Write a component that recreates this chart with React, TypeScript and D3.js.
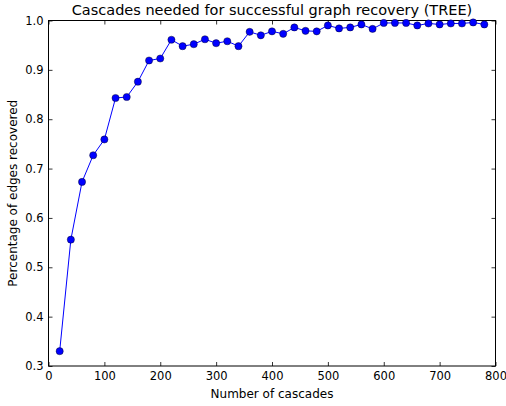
import React, { useEffect, useRef } from 'react';
import * as d3 from 'd3';

// Number of cascades used (x) and share of edges recovered (y)
const cascades = [20, 40, 60, 80, 100, 120, 140, 160, 180, 200, 220, 240, 260, 280, 300, 320, 340, 360, 380, 400,
  420, 440, 460, 480, 500, 520, 540, 560, 580, 600, 620, 640, 660, 680, 700, 720, 740, 760, 780];
const recovered = [0.330, 0.556, 0.673, 0.727, 0.759, 0.843, 0.845, 0.876, 0.919, 0.923, 0.961, 0.948, 0.952, 0.962,
  0.954, 0.958, 0.948, 0.977, 0.970, 0.978, 0.973, 0.986, 0.979, 0.978, 0.990, 0.984, 0.986, 0.992, 0.983, 0.995,
  0.995, 0.995, 0.990, 0.994, 0.992, 0.994, 0.994, 0.996, 0.992];

const xTicks = [0, 100, 200, 300, 400, 500, 600, 700, 800];
const yTicks = [0.3, 0.4, 0.5, 0.6, 0.7, 0.8, 0.9, 1.0];

const W = 506;
const H = 406;
const margin = { top: 20.5, right: 10.5, bottom: 40, left: 48.5 };

const App = () => {
  const svgRef = useRef<SVGSVGElement>(null);

  useEffect(() => {
    const svg = d3.select(svgRef.current);
    svg.selectAll('*').remove();

    const x = d3.scaleLinear().domain([0, 800]).range([margin.left, W - margin.right]);
    const y = d3.scaleLinear().domain([0.3, 1.0]).range([H - margin.bottom, margin.top]);
    const font = 'DejaVu Sans, sans-serif';

    svg.append('rect').attr('width', W).attr('height', H).attr('fill', 'white');

    // --- axes, ticks pointing inward on all four sides ---
    const tickLen = 4;
    const bottom = svg.append('g').attr('transform', `translate(0,${y(0.3)})`)
      .call(d3.axisBottom(x).tickValues(xTicks).tickSize(-tickLen).tickPadding(6).tickFormat(d3.format('d')));
    const top = svg.append('g').attr('transform', `translate(0,${y(1.0)})`)
      .call(d3.axisTop(x).tickValues(xTicks).tickSize(-tickLen).tickFormat(() => ''));
    const left = svg.append('g').attr('transform', `translate(${x(0)},0)`)
      .call(d3.axisLeft(y).tickValues(yTicks).tickSize(-tickLen).tickPadding(5).tickFormat(d3.format('.1f')));
    const right = svg.append('g').attr('transform', `translate(${x(800)},0)`)
      .call(d3.axisRight(y).tickValues(yTicks).tickSize(-tickLen).tickFormat(() => ''));

    [bottom, top, left, right].forEach(a => {
      a.select('.domain').remove();
      a.selectAll('line').attr('stroke', '#000').attr('stroke-width', 0.8);
      a.selectAll('text').attr('font-family', font).attr('font-size', 11.5).attr('fill', '#000');
    });

    // frame
    svg.append('rect')
      .attr('x', x(0)).attr('y', y(1.0))
      .attr('width', x(800) - x(0)).attr('height', y(0.3) - y(1.0))
      .attr('fill', 'none').attr('stroke', '#000').attr('stroke-width', 1);

    // --- data ---
    const pts = cascades.map((c, i) => [c, recovered[i]] as [number, number]);
    const line = d3.line<[number, number]>().x(d => x(d[0])).y(d => y(d[1]));

    svg.append('path').datum(pts)
      .attr('d', line).attr('fill', 'none').attr('stroke', '#0000ff').attr('stroke-width', 1);

    svg.append('g').selectAll('circle').data(pts).join('circle')
      .attr('cx', d => x(d[0])).attr('cy', d => y(d[1])).attr('r', 3.6)
      .attr('fill', '#0000ff').attr('stroke', '#000').attr('stroke-width', 0.4);

    // --- labels ---
    svg.append('text').attr('x', (x(0) + x(800)) / 2).attr('y', 15)
      .attr('text-anchor', 'middle').attr('font-family', font).attr('font-size', 14.5)
      .text('Cascades needed for successful graph recovery (TREE)');

    svg.append('text').attr('x', (x(0) + x(800)) / 2).attr('y', 398)
      .attr('text-anchor', 'middle').attr('font-family', font).attr('font-size', 12)
      .text('Number of cascades');

    svg.append('text')
      .attr('transform', `translate(17,${(y(0.3) + y(1.0)) / 2}) rotate(-90)`)
      .attr('text-anchor', 'middle').attr('font-family', font).attr('font-size', 12)
      .text('Percentage of edges recovered');
  }, []);

  return <svg ref={svgRef} width={W} height={H} style={{ position: 'absolute', left: 0, top: 0 }} />;
};

export default App;
